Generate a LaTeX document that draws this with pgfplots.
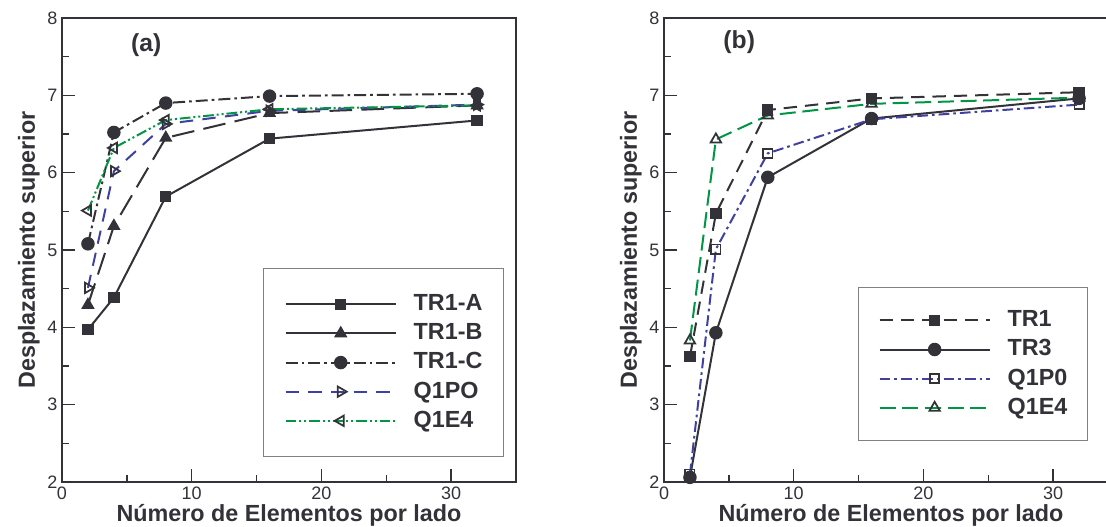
\documentclass[border=0pt]{standalone}
\usepackage{pgfplots}
\pgfplotsset{compat=1.18}
\usepackage{fontspec}
\setmainfont{Liberation Sans}
\definecolor{dk}{RGB}{50,50,56}
\definecolor{bl}{RGB}{64,64,160}
\definecolor{gr}{RGB}{0,150,70}
\pgfplotsset{
 solidleg/.style={legend image code/.code={\draw[mark repeat=2,mark phase=2,##1,solid] plot coordinates {(0pt,0pt)(41.25pt,0pt)(82.5pt,0pt)};}},
 myaxis/.style={
  scale only axis, width=340.5pt, height=348pt,
  xmin=0,xmax=35,ymin=2,ymax=8,
  xtick={0,10,20,30}, minor xtick={5,15,25},
  ytick={2,3,4,5,6,7,8}, minor ytick={2.5,3.5,4.5,5.5,6.5,7.5},
  xtick pos=bottom, ytick pos=left,
  axis line style={line width=1.8pt, color=dk},
  major tick length=10pt, minor tick length=5.5pt,
  every tick/.style={line width=1.1pt, color=dk},
  tick label style={font=\fontsize{13.5}{15}\selectfont, color=dk},
  /pgf/number format/assume math mode=true,
  every axis x label/.style={at={(axis description cs:0.5,-0.0862)}, anchor=base,
     font=\fontsize{17.5}{20}\selectfont\bfseries, text=dk},
  every axis y label/.style={at={(axis description cs:-0.0595,0.5)}, rotate=90, anchor=base,
     font=\fontsize{17.5}{20}\selectfont\bfseries, text=dk},
  xlabel={Número de Elementos por lado},
  ylabel={Desplazamiento superior},
  legend cell align=left,
  legend image code/.code={\draw[mark repeat=2,mark phase=2,##1] plot coordinates {(0pt,0pt)(41.25pt,0pt)(82.5pt,0pt)};},
  legend style={anchor=north west, draw=gray, line width=0.7pt, fill=white,
    font=\fontsize{17.5}{20}\selectfont\bfseries, text=dk,
    row sep=6.25pt, column sep=12.75pt,
    nodes={inner sep=0pt, text height=12.6pt, text depth=3pt, minimum width=0pt, minimum height=0pt}},
  clip=false,
 }
}
\begin{document}
\begin{tikzpicture}
\useasboundingbox (0,0) rectangle (829.5pt,395.25pt);
\begin{axis}[myaxis, at={(46.5pt,33.75pt)}, anchor=south west,
  legend style={at={(0.443,0.461)}, minimum width=180pt, minimum height=141pt}]
\addplot[dk, line width=1.5pt, mark=square*, mark size=3.5pt, mark options={solid}]
  coordinates {(2,3.97)(4,4.385)(8,5.69)(16,6.44)(32,6.675)};
\addlegendentry{TR1-A}
\addplot[dk, line width=1.5pt, dash pattern=on 17pt off 7pt, mark=triangle*, mark size=4.3pt, mark options={solid}, solidleg]
  coordinates {(2,4.29)(4,5.31)(8,6.45)(16,6.77)(32,6.87)};
\addlegendentry{TR1-B}
\addplot[dk, line width=1.5pt, dash pattern=on 9pt off 3pt on 2pt off 3pt, mark=*, mark size=4.3pt, mark options={solid}]
  coordinates {(2,5.08)(4,6.52)(8,6.90)(16,6.99)(32,7.02)};
\addlegendentry{TR1-C}
\addplot[bl, line width=1.5pt, dash pattern=on 10pt off 7pt, mark=triangle, mark size=4.5pt, mark options={solid, rotate=-90, draw=dk, fill=white, line width=1.3pt}]
  coordinates {(2,4.51)(4,6.02)(8,6.63)(16,6.80)(32,6.88)};
\addlegendentry{Q1PO}
\addplot[gr, line width=1.5pt, dash pattern=on 8pt off 2.2pt on 1.5pt off 2.2pt on 1.5pt off 2.2pt, mark=triangle, mark size=4.5pt, mark options={solid, rotate=90, draw=dk, fill=white, line width=1.3pt}]
  coordinates {(2,5.51)(4,6.32)(8,6.68)(16,6.82)(32,6.87)};
\addlegendentry{Q1E4}
\node[font=\fontsize{18.5}{20}\selectfont\bfseries, text=dk] at (axis cs:6.5,7.65) {(a)};
\end{axis}
\begin{axis}[myaxis, at={(498pt,33.75pt)}, anchor=south west,
  legend style={at={(0.4273,0.420)}, minimum width=171.75pt, minimum height=114.75pt}]
\addplot[dk, line width=1.5pt, dash pattern=on 10pt off 6pt, mark=square*, mark size=3.5pt, mark options={solid}]
  coordinates {(2,3.62)(4,5.47)(8,6.81)(16,6.96)(32,7.04)};
\addlegendentry{TR1}
\addplot[dk, line width=1.5pt, mark=*, mark size=4.3pt, mark options={solid}]
  coordinates {(2,2.06)(4,3.93)(8,5.94)(16,6.70)(32,6.96)};
\addlegendentry{TR3}
\addplot[bl, line width=1.5pt, dash pattern=on 8pt off 3pt on 2pt off 3pt, mark=square, mark size=3.5pt, mark options={solid, draw=dk, fill=white, line width=1.3pt}]
  coordinates {(2,2.10)(4,5.01)(8,6.25)(16,6.69)(32,6.88)};
\addlegendentry{Q1P0}
\addplot[gr, line width=1.5pt, dash pattern=on 12pt off 5pt, mark=triangle, mark size=4.5pt, mark options={solid, draw=dk, fill=white, line width=1.3pt}]
  coordinates {(2,3.83)(4,6.43)(8,6.74)(16,6.89)(32,6.97)};
\addlegendentry{Q1E4}
\node[font=\fontsize{18.5}{20}\selectfont\bfseries, text=dk] at (axis cs:5.8,7.69) {(b)};
\end{axis}
\end{tikzpicture}
\end{document}
